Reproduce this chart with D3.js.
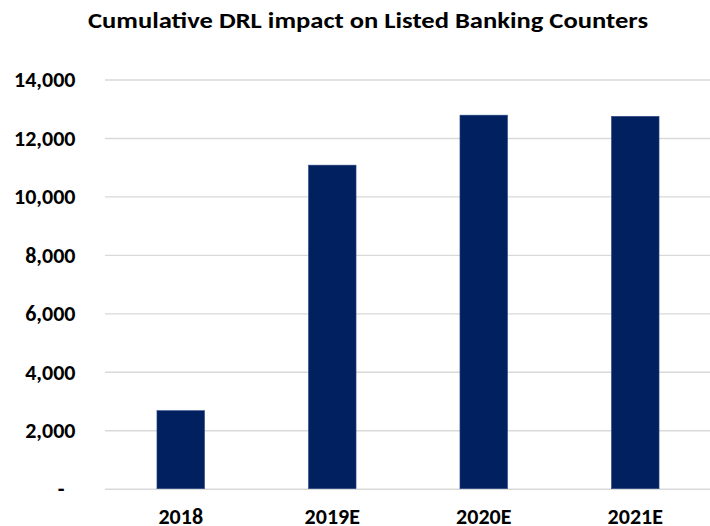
<!DOCTYPE html>
<html>
<head>
<meta charset="utf-8">
<script src="https://cdn.jsdelivr.net/npm/d3@7"></script>
<style>
  html, body { margin: 0; padding: 0; background: #ffffff; }
  svg { display: block; }
  text { font-family: Carlito, Calibri, Lato, "Open Sans", sans-serif; font-weight: 700; fill: #000; }
</style>
</head>
<body>
<svg id="chart" width="710" height="526"></svg>
<script>
// Cumulative DRL impact by year
const categories = ["2018", "2019E", "2020E", "2021E"];
const values = [2670, 11070, 12780, 12740];
const tickValues = [0, 2000, 4000, 6000, 8000, 10000, 12000, 14000];
const titleText = "Cumulative DRL impact on Listed Banking Counters";

const svg = d3.select("#chart");
const plot = { left: 105, right: 711, top: 79.5, bottom: 488.7 };
const labelFont = "Carlito, Calibri, Lato, 'Open Sans', sans-serif";

const x = d3.scaleBand()
  .domain(categories)
  .range([plot.left, plot.right])
  .paddingInner(0.686)
  .paddingOuter(0.343);

const y = d3.scaleLinear()
  .domain([0, 14000])
  .range([plot.bottom, plot.top]);

const fmt = d3.format(",");

// Horizontal gridlines with value labels
const yAxis = d3.axisLeft(y)
  .tickValues(tickValues)
  .tickSize(-(plot.right - plot.left))
  .tickPadding(29.5)
  .tickFormat(d => d === 0 ? "-\u2002" : fmt(d));

const gy = svg.append("g")
  .attr("transform", `translate(${plot.left},0)`)
  .call(yAxis);
gy.select(".domain").remove();
gy.selectAll(".tick line").attr("stroke", "#d9d9d9").attr("stroke-width", 1.4);
gy.selectAll(".tick text")
  .attr("font-size", 22)
  .attr("dy", "0.33em")
  .style("font-family", labelFont)
  .style("font-weight", 700)
  .attr("fill", "#000");

// Bars
svg.append("g")
  .selectAll("rect")
  .data(categories.map((c, i) => ({ c, v: values[i] })))
  .join("rect")
  .attr("x", d => x(d.c))
  .attr("width", x.bandwidth())
  .attr("y", d => y(d.v))
  .attr("height", d => y(0) - y(d.v))
  .attr("fill", "#002060")
  .attr("stroke", "#2f4a85")
  .attr("stroke-width", 0.6);

// Category labels
const xAxis = d3.axisBottom(x).tickSize(0).tickPadding(0);
const gx = svg.append("g")
  .attr("transform", `translate(0,${plot.bottom})`)
  .call(xAxis);
gx.select(".domain").remove();
gx.selectAll(".tick text")
  .attr("y", 35)
  .attr("dy", 0)
  .attr("font-size", 22)
  .style("font-family", labelFont)
  .style("font-weight", 700)
  .attr("fill", "#000");

// Title
svg.append("text")
  .attr("x", 368)
  .attr("y", 28)
  .attr("text-anchor", "middle")
  .attr("font-size", 22)
  .attr("textLength", 560)
  .attr("lengthAdjust", "spacingAndGlyphs")
  .text(titleText);
</script>
</body>
</html>
